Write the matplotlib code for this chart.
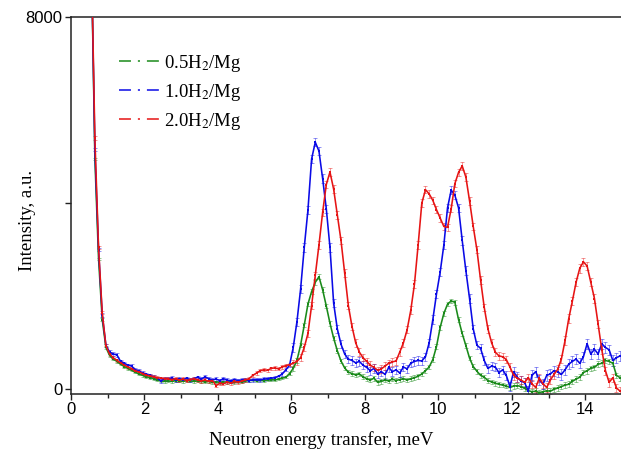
import numpy as np
import matplotlib
matplotlib.use("Agg")
import matplotlib.pyplot as plt
from matplotlib.lines import Line2D
from matplotlib.ticker import MultipleLocator, FixedLocator, FixedFormatter

plt.rcParams['lines.scale_dashes'] = False
plt.rcParams['mathtext.fontset'] = 'stix'

# energy grid (meV) shared by the three spectra
energy = np.round(np.arange(0.55, 14.96, 0.1), 2)

# 0.5 H2/Mg
i_05 = [9500, 4950, 2800, 1500, 900, 730, 650, 600, 540, 490,
        450, 410, 370, 330, 300, 270, 250, 230, 200, 180,
        170, 180, 170, 190, 180, 170, 190, 180, 170, 180,
        170, 160, 170, 150, 160, 150, 160, 150, 160, 150,
        170, 160, 180, 190, 200, 190, 200, 190, 200, 210,
        200, 220, 240, 260, 340, 450, 620, 950, 1380, 1830,
        2100, 2300, 2420, 2140, 1790, 1420, 1100, 830, 610, 460,
        370, 340, 310, 330, 270, 230, 200, 240, 150, 170,
        200, 180, 220, 190, 210, 230, 200, 230, 250, 280,
        330, 400, 480, 640, 920, 1330, 1630, 1830, 1900, 1870,
        1500, 1200, 940, 670, 490, 390, 300, 260, 190, 160,
        130, 110, 90, 70, 40, 70, 80, 60, 20, -30,
        -50, -40, -70, -50, -30, -40, 0, 30, 60, 90,
        110, 170, 220, 260, 360, 400, 450, 470, 540, 560,
        620, 600, 560, 300, 250]

# 1.0 H2/Mg
i_10 = [9500, 5150, 3000, 1600, 950, 800, 760, 740, 600, 560,
        520, 500, 420, 400, 350, 320, 300, 270, 240, 180,
        230, 220, 250, 200, 230, 210, 240, 200, 230, 260,
        220, 270, 230, 200, 220, 190, 230, 200, 180, 210,
        190, 200, 210, 190, 200, 210, 200, 220, 230, 240,
        250, 280, 330, 420, 520, 900, 1450, 2150, 3050, 3850,
        4950, 5310, 5120, 4530, 3880, 3050, 1850, 1300, 970, 760,
        650, 620, 570, 600, 520, 470, 400, 450, 330, 380,
        320, 470, 380, 420, 350, 480, 440, 560, 600, 620,
        610, 700, 1000, 1500, 2050, 2520, 3100, 3900, 4280, 4170,
        3900, 3200, 2550, 1950, 1300, 950, 880, 620, 450, 500,
        480, 360, 420, 300, 60, 380, 260, 180, 140, -30,
        300, 380, 200, 110, 300, 330, 400, 380, 320, 420,
        540, 600, 650, 560, 700, 980, 760, 860, 760, 980,
        900, 850, 620, 680, 720]

# 2.0 H2/Mg
i_20 = [9500, 5400, 3050, 1650, 940, 760, 680, 620, 570, 520,
        480, 440, 400, 370, 340, 300, 290, 270, 250, 240,
        230, 220, 210, 230, 200, 220, 190, 210, 230, 200,
        180, 200, 170, 190, 80, 130, 120, 150, 130, 170,
        150, 180, 200, 230, 300, 350, 400, 420, 410, 450,
        460, 440, 480, 510, 530, 560, 600, 680, 900, 1200,
        1800, 2450, 3100, 3800, 4400, 4670, 4300, 3750, 3200, 2500,
        1800, 1350, 1000, 800, 680, 600, 520, 470, 410, 440,
        500, 560, 590, 610, 800, 1000, 1280, 1700, 2260, 3100,
        4000, 4290, 4200, 4060, 3860, 3680, 3500, 3480, 3880, 4420,
        4660, 4800, 4560, 4050, 3500, 3000, 2350, 1760, 1300, 1000,
        800, 720, 700, 640, 480, 300, 240, 200, 150, 250,
        120, 40, 240, 120, 40, 200, 320, 430, 650, 1050,
        1520, 1900, 2300, 2600, 2740, 2650, 2300, 1950, 1400, 850,
        400, 150, 250, 30, -40]

# error bar size per energy band: [0-6), [6-12), [12-15] meV
err_edges = [6, 12]
err_05 = [25, 50, 60]
err_10 = [35, 90, 110]
err_20 = [35, 80, 90]

labels = ['0.5H$_2$/Mg', '1.0H$_2$/Mg', '2.0H$_2$/Mg']
colors = ['#1a8a1a', '#0a0ae6', '#e61414']

serif = ['Liberation Serif', 'DejaVu Serif']
sans = ['Liberation Sans', 'DejaVu Sans']

fig = plt.figure(figsize=(6.21, 4.53), dpi=100)
ax = fig.add_axes([71 / 621, 59 / 453, 551 / 621, 377 / 453])

band = np.searchsorted(err_edges, energy, side='right')
for y, err, c in zip([i_05, i_10, i_20], [err_05, err_10, err_20], colors):
    e = np.array(err)[band]
    ax.errorbar(energy, y, yerr=e, fmt='none', ecolor=c, alpha=0.45,
                elinewidth=0.7, capsize=1.3, capthick=0.7, zorder=2)
    ax.plot(energy, y, color=c, lw=1.15, marker='s', ms=2.0, mew=0,
            zorder=3)

ax.set_xlim(0, 15)
ax.set_ylim(-100, 8000)

ax.xaxis.set_major_locator(MultipleLocator(2))
ax.xaxis.set_minor_locator(MultipleLocator(1))
ax.yaxis.set_major_locator(FixedLocator([0, 4000, 8000]))
ax.yaxis.set_major_formatter(FixedFormatter(['0', '', '8000']))

ax.tick_params(which='both', direction='out', width=1.0, color='#222222',
               labelsize=12, pad=1.5)
ax.tick_params(which='major', length=4.5)
ax.tick_params(which='minor', length=3)
for lab in ax.get_xticklabels() + ax.get_yticklabels():
    lab.set_family(sans)

for s in ax.spines.values():
    s.set_linewidth(1.1)
    s.set_color('#222222')

ax.set_xlabel('Neutron energy transfer, meV', family=serif, fontsize=13.5)
ax.xaxis.set_label_coords((321 - 71) / 551, (394 - 440) / 377)
ax.xaxis.label.set_va('center')
ax.set_ylabel('Intensity, a.u.', family=serif, fontsize=13.5)
ax.yaxis.set_label_coords((27 - 71) / 551, (394 - 220) / 377)
ax.yaxis.label.set_va('center')

# legend handles: dash - dot - dash
handles = [Line2D([], [], color=c, lw=1.1,
                  linestyle=(0, (8.6, 5.0, 1.5, 5.0, 8.6, 60)))
           for c in colors]
leg = ax.legend(handles, labels, loc='upper left',
                bbox_to_anchor=(119 / 621, 1 - 53 / 453),
                bbox_transform=fig.transFigure, frameon=False,
                prop={'family': serif, 'size': 13.5}, handlelength=2.13,
                handletextpad=0.27, labelspacing=0.42, borderpad=0,
                borderaxespad=0)

fig.savefig('out.png', dpi=100)
